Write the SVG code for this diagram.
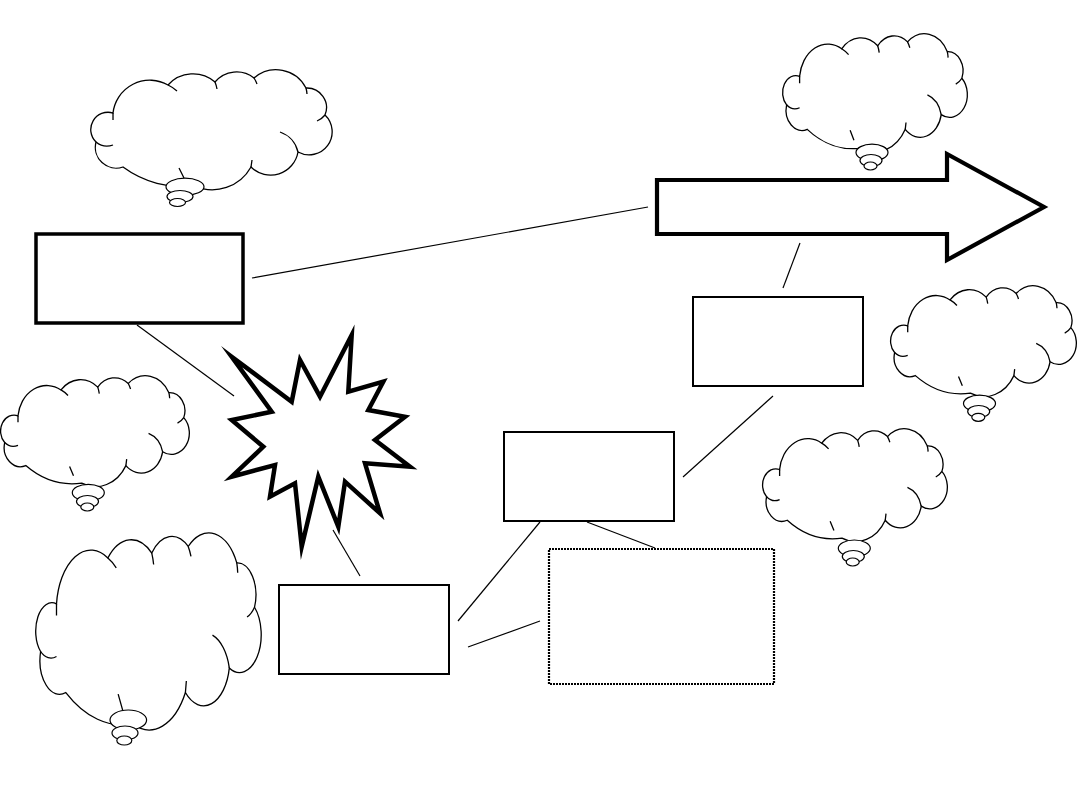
<svg xmlns="http://www.w3.org/2000/svg" xmlns:xlink="http://www.w3.org/1999/xlink" width="1080" height="810" viewBox="0 0 1080 810">
<style>
.cb{fill:#fff;stroke:#000;stroke-width:1.3;vector-effect:non-scaling-stroke}
.ct{fill:none;stroke:#000;stroke-width:1.3;vector-effect:non-scaling-stroke}
.bub{fill:#fff;stroke:#000;stroke-width:1.2}
.box{fill:#fff;stroke:#000;stroke-width:2}
.thick{fill:#fff;stroke:#000;stroke-width:3.5;stroke-linejoin:miter;stroke-miterlimit:10}
.dot{fill:#fff;stroke:#000;stroke-width:2.2;stroke-dasharray:2 1}
.conn line{stroke:#000;stroke-width:1.2}
</style>
<defs>
<path id="cloudBody" class="cb" d="M9.47,35.9 A15.23,31.62 0 0 1 32.1,11.97 A13.91,28.89 0 0 1 51.44,9.4 A11.52,23.93 0 0 1 67.49,5.98 A13.79,28.63 0 0 1 88.89,14.53 A8.07,16.75 0 0 1 96.71,37.61 A9.51,19.74 0 0 1 85.6,69.23 A11.44,23.76 0 0 1 66.26,82.05 A18.23,37.86 0 0 1 43,98.3 A41.56,86.3 0 0 1 13.58,82.05 A8.6,17.86 0 0 1 2.47,60.68 A7.12,14.79 0 0 1 9.47,35.9 Z"/>
<path id="cloudTicks" class="ct" d="M32.1,11.97 A15.23,31.62 0 0 1 35.8,17.1 M51.44,9.4 A13.91,28.89 0 0 1 52.26,15.38 M67.49,5.98 A11.52,23.93 0 0 1 68.72,11.11 M88.89,14.53 A13.79,28.63 0 0 1 89.3,19.66 M96.71,37.61 A8.07,16.75 0 0 1 93.42,42.74 M78.19,52.14 A11.44,23.76 0 0 1 85.6,69.23 M66.67,76.07 L66.26,82.05 M36.63,82.91 L38.68,91.45 M9.47,63.25 A7.12,14.79 0 0 1 2.47,60.68 M9.47,41.88 L9.47,35.9"/>
</defs>

<g id="connectors" class="conn">
<line x1="252" y1="278" x2="648" y2="207"/>
<line x1="137" y1="325" x2="234" y2="396"/>
<line x1="333" y1="530" x2="360" y2="576"/>
<line x1="458" y1="621" x2="540" y2="522"/>
<line x1="468" y1="647" x2="540" y2="621"/>
<line x1="587" y1="522" x2="655" y2="548"/>
<line x1="683" y1="477" x2="773" y2="396"/>
<line x1="783" y1="288" x2="800" y2="243"/>
</g>

<g id="cloud1">
<use xlink:href="#cloudBody" transform="translate(90,71) scale(2.43,1.17)"/>
<use xlink:href="#cloudTicks" transform="translate(90,71) scale(2.43,1.17)"/>
<ellipse class="bub" cx="185" cy="186.7" rx="19" ry="8.5"/>
<ellipse class="bub" cx="180" cy="196.5" rx="13" ry="6"/>
<ellipse class="bub" cx="177.5" cy="202.5" rx="8" ry="4"/>
</g>

<g id="cloud2">
<use xlink:href="#cloudBody" transform="translate(782,35) scale(1.86,1.15)"/>
<use xlink:href="#cloudTicks" transform="translate(782,35) scale(1.86,1.15)"/>
<ellipse class="bub" cx="872" cy="152.5" rx="16" ry="8.3"/>
<ellipse class="bub" cx="871" cy="160.5" rx="11" ry="6"/>
<ellipse class="bub" cx="870.5" cy="166" rx="6.5" ry="4"/>
</g>

<g id="cloud3">
<use xlink:href="#cloudBody" transform="translate(890,287) scale(1.87,1.08)"/>
<use xlink:href="#cloudTicks" transform="translate(890,287) scale(1.87,1.08)"/>
<ellipse class="bub" cx="979.5" cy="403.5" rx="16" ry="8.3"/>
<ellipse class="bub" cx="978.7" cy="411.5" rx="11" ry="6"/>
<ellipse class="bub" cx="978.3" cy="417.3" rx="6.5" ry="4"/>
</g>

<g id="cloud4">
<use xlink:href="#cloudBody" transform="translate(762,430) scale(1.86,1.1)"/>
<use xlink:href="#cloudTicks" transform="translate(762,430) scale(1.86,1.1)"/>
<ellipse class="bub" cx="854.3" cy="548.3" rx="16" ry="8.3"/>
<ellipse class="bub" cx="853.3" cy="556.5" rx="11" ry="6"/>
<ellipse class="bub" cx="852.7" cy="562" rx="6.5" ry="4"/>
</g>

<g id="cloud5">
<use xlink:href="#cloudBody" transform="translate(0,377) scale(1.9,1.08)"/>
<use xlink:href="#cloudTicks" transform="translate(0,377) scale(1.9,1.08)"/>
<ellipse class="bub" cx="88.3" cy="492.7" rx="16" ry="8.3"/>
<ellipse class="bub" cx="87.5" cy="501.5" rx="11" ry="6"/>
<ellipse class="bub" cx="87.3" cy="507" rx="6.5" ry="4"/>
</g>

<g id="cloud6">
<use xlink:href="#cloudBody" transform="translate(35,535) scale(2.27,1.92)"/>
<use xlink:href="#cloudTicks" transform="translate(35,535) scale(2.27,1.92)"/>
<ellipse class="bub" cx="128.3" cy="720" rx="18.3" ry="10"/>
<ellipse class="bub" cx="125" cy="733" rx="13" ry="7"/>
<ellipse class="bub" cx="124.3" cy="740.5" rx="7.5" ry="4.5"/>
</g>

<g id="box1"><rect class="thick" x="36" y="234" width="207" height="89" style="stroke-width:3.5"/></g>
<g id="arrow"><polygon class="thick" style="stroke-width:4.2" points="657,180 947,180 947,154 1044,207 947,260 947,234 657,234"/></g>
<g id="starburst"><polygon class="thick" style="stroke-width:4.5" points="231.7,356.7 291.7,401.7 300,360 320,396.7 351.7,335 348.3,391.7 383.3,381.7 368.3,410 405,416.7 375,440 410,466.7 365,463.3 380,513.3 345,481.7 338.3,526.7 318.3,476.7 301.7,546.7 295,483.3 270,496.7 275,465 231.7,476.7 263.3,446.7 231.7,420 271.7,411.7"/></g>
<g id="box2"><rect class="box" x="693" y="297" width="170" height="89"/></g>
<g id="box3"><rect class="box" x="504" y="432" width="170" height="89"/></g>
<g id="box4"><rect class="box" x="279" y="585" width="170" height="89"/></g>
<g id="box5"><rect class="dot" x="549" y="549" width="225" height="135"/></g>
</svg>
